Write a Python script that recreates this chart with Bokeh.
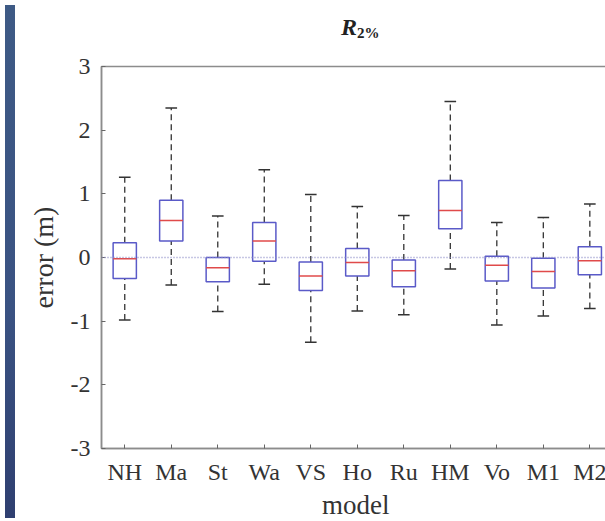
from bokeh.plotting import figure
from bokeh.models import FixedTicker, LinearAxis, Range1d, Span, Div, ColumnDataSource
from bokeh.layouts import row, column
from bokeh.embed import file_html
from bokeh.resources import INLINE

# ---- data ----
models = ["NH", "Ma", "St", "Wa", "VS", "Ho", "Ru", "HM", "Vo", "M1", "M2"]
upper_whisker = [1.26, 2.35, 0.65, 1.38, 0.99, 0.80, 0.66, 2.45, 0.55, 0.63, 0.84]
q3 = [0.23, 0.90, 0.00, 0.55, -0.07, 0.14, -0.04, 1.21, 0.02, -0.01, 0.17]
median = [-0.02, 0.58, -0.16, 0.26, -0.29, -0.08, -0.21, 0.74, -0.12, -0.22, -0.05]
q1 = [-0.33, 0.26, -0.38, -0.06, -0.52, -0.29, -0.46, 0.45, -0.37, -0.48, -0.27]
lower_whisker = [-0.98, -0.43, -0.85, -0.42, -1.33, -0.84, -0.90, -0.18, -1.06, -0.92, -0.80]
y_ticks = [-3, -2, -1, 0, 1, 2, 3]
zero_line = 0

pos = list(range(1, len(models) + 1))
box_w = 0.5
cap_w = 0.25

src = ColumnDataSource(dict(
    x=pos,
    xl=[p_ - box_w / 2 for p_ in pos],
    xr=[p_ + box_w / 2 for p_ in pos],
    cl=[p_ - cap_w / 2 for p_ in pos],
    cr=[p_ + cap_w / 2 for p_ in pos],
    up=upper_whisker, q3=q3, med=median, q1=q1, lo=lower_whisker,
))

FONT = "Liberation Serif"
AX = "#8c8c8c"
TXT = "#333333"

p = figure(width=587, height=444, output_backend="svg", toolbar_location=None,
           x_range=Range1d(0.5, 11.38), y_range=Range1d(-3, 3),
           min_border_left=81, min_border_right=0, min_border_top=18, min_border_bottom=44,
           x_axis_type=None, y_axis_type=None)
p.background_fill_color = "white"
p.border_fill_color = "white"
p.outline_line_color = AX
p.outline_line_width = 1.5
p.xgrid.visible = False
p.ygrid.visible = False

xt = FixedTicker(ticks=pos)
yt = FixedTicker(ticks=y_ticks)
xb = LinearAxis(ticker=xt, major_label_overrides={i: m for i, m in zip(pos, models)})
ya = LinearAxis(ticker=yt, major_label_overrides={t: str(t) for t in y_ticks})
for ax in (xb, ya):
    ax.axis_line_color = AX
    ax.axis_line_width = 1.5
    ax.major_tick_line_color = "#666666"
    ax.major_tick_in = 4
    ax.major_tick_out = 0
    ax.minor_tick_line_color = None
    ax.major_label_text_font = FONT
    ax.major_label_text_color = TXT
    ax.major_label_text_font_size = "24px"
    ax.axis_label_text_font = FONT
    ax.axis_label_text_color = TXT
    ax.axis_label_text_font_style = "normal"
    ax.axis_label_text_font_size = "28px"
xb.major_label_standoff = 10
ya.axis_label = "error (m)"
ya.major_label_standoff = 11
ya.axis_label_standoff = 9
p.add_layout(xb, "below")
p.add_layout(ya, "left")

# zero reference line
p.add_layout(Span(location=zero_line, dimension="width", line_color="#8f8fc8",
                  line_width=1.5, line_dash="1 2"))

# whiskers
p.segment(x0="x", x1="x", y0="q3", y1="up", source=src, line_color="#333333",
          line_width=1.3, line_dash="6 4")
p.segment(x0="x", x1="x", y0="lo", y1="q1", source=src, line_color="#333333",
          line_width=1.3, line_dash="6 4")
# caps
p.segment(x0="cl", x1="cr", y0="up", y1="up", source=src, line_color="#333333", line_width=1.5)
p.segment(x0="cl", x1="cr", y0="lo", y1="lo", source=src, line_color="#333333", line_width=1.5)
# boxes
p.quad(left="xl", right="xr", top="q3", bottom="q1", source=src, fill_color="white",
       line_color="#5a5ac8", line_width=1.5)
# medians
p.segment(x0="xl", x1="xr", y0="med", y1="med", source=src, line_color="#e04a4a", line_width=1.5)

title_html = (
    '<div style="margin-left:316px; margin-top:10px; line-height:24px; white-space:nowrap; color:#222;">'
    '<span style="font-family:\'Liberation Serif\'; font-style:italic; font-weight:bold; font-size:24px;">R</span>'
    '<span style="font-family:\'Liberation Serif\'; font-weight:bold; font-size:15px; line-height:15px; vertical-align:-3px;">2%</span>'
    '</div>'
)
title_div = Div(text=title_html, width=587, height=38)

xlabel_html = (
    '<div style="margin-left:297px; margin-top:-5px; line-height:27px; white-space:nowrap; '
    'font-family:\'Liberation Serif\'; font-size:27px; color:#333333;">model</div>'
)
xlabel_div = Div(text=xlabel_html, width=587, height=31)

strip = Div(width=10, height=513, styles={
    "background": "linear-gradient(180deg, #3e5a85 0%, #3a5282 60%, #2f3f70 100%)"})

layout = row(strip, column(title_div, p, xlabel_div, spacing=0), spacing=0)

open("out.html", "w").write(file_html(layout, INLINE))
